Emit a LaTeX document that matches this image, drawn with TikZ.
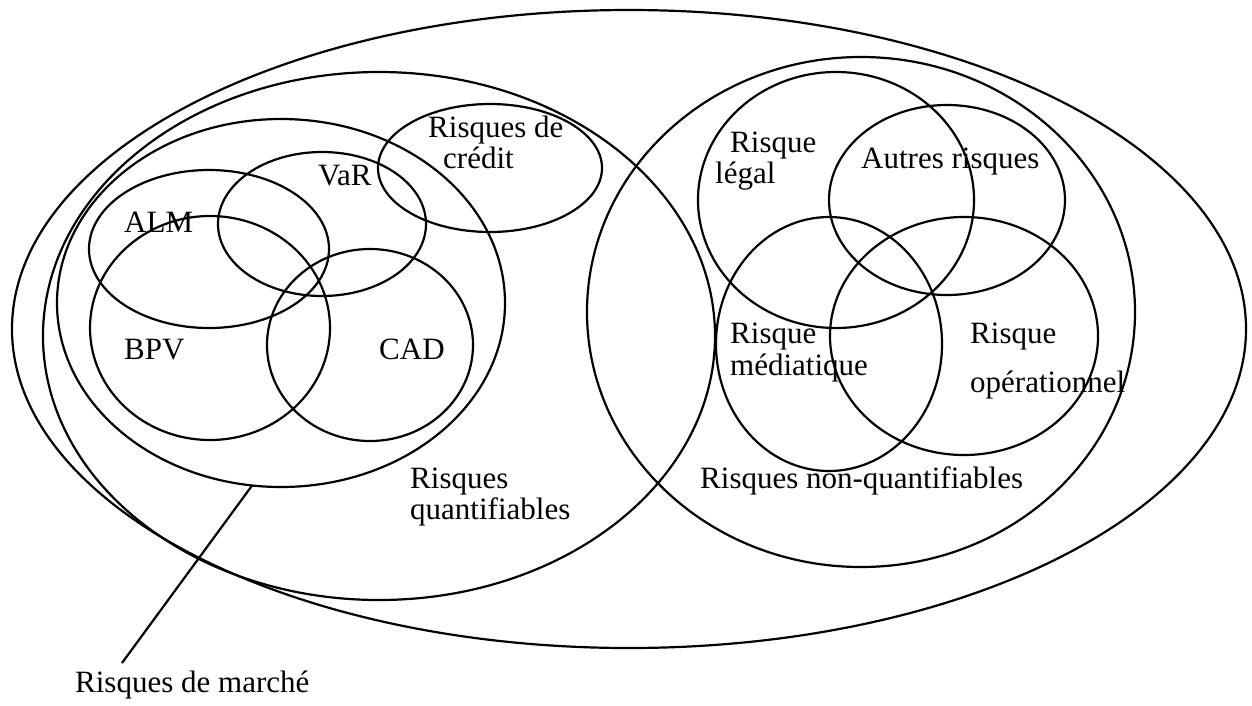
\documentclass[tikz,border=0pt]{standalone}
\usepackage{fontspec}
\setmainfont{Liberation Serif}
\usetikzlibrary{shapes.geometric}
\tikzset{
  set/.style={draw, ellipse, line width=2.2pt, inner sep=0pt, outer sep=0pt},
  lbl/.style={anchor=base west, inner sep=0pt, font=\fontsize{31}{31}\selectfont},
  link/.style={line width=2.2pt}
}
\begin{document}
\begin{tikzpicture}[x=1pt, y=-1pt]
\useasboundingbox (0,0) rectangle (1252,705);
% big sets
\node[set, minimum width=1234pt, minimum height=638pt] (outer) at (629,329) {};
\node[set, minimum width=672pt, minimum height=528pt] (quant) at (379,336) {};
\node[set, minimum width=448pt, minimum height=368pt] (marche) at (281,303) {};
\node[set, minimum width=548pt, minimum height=510pt] (nonquant) at (861,312) {};
% quantifiable subsets
\node[set, minimum width=224pt, minimum height=128pt] (credit) at (490,168) {};
\node[set, minimum width=240pt, minimum height=158pt] (alm) at (209,249) {};
\node[set, minimum width=208pt, minimum height=144pt] (var) at (322,224) {};
\node[set, minimum width=240pt, minimum height=224pt] (bpv) at (210,328) {};
\node[set, minimum width=206pt, minimum height=192pt] (cad) at (370,345) {};
% non-quantifiable subsets
\node[set, minimum width=276pt, minimum height=256pt] (legal) at (836,200) {};
\node[set, minimum width=236pt, minimum height=190pt] (autres) at (947,200) {};
\node[set, minimum width=226pt, minimum height=254pt] (media) at (829,344) {};
\node[set, minimum width=268pt, minimum height=238pt] (oper) at (964,336) {};
% labels
\node[lbl] (tcredit1) at (428,137) {Risques de};
\node[lbl] (tcredit2) at (443,168) {crédit};
\node[lbl] (tvar) at (318,185) {VaR};
\node[lbl] (talm) at (124,232) {ALM};
\node[lbl] (tbpv) at (124,359) {BPV};
\node[lbl] (tcad) at (379,359) {CAD};
\node[lbl] (tquant1) at (410,488) {Risques};
\node[lbl] (tquant2) at (410,519) {quantifiables};
\node[lbl] (tmarche) at (75,692) {Risques de marché};
\node[lbl] (tlegal1) at (730,152) {Risque};
\node[lbl] (tlegal2) at (715,183) {légal};
\node[lbl] (tautres) at (861,168) {Autres risques};
\node[lbl] (tmedia1) at (730,343) {Risque};
\node[lbl] (tmedia2) at (730,375) {médiatique};
\node[lbl] (toper1) at (970,343) {Risque};
\node[lbl] (toper2) at (970,392) {opérationnel};
\node[lbl] (tnonquant) at (700,488) {Risques non-quantifiables};
% pointer line
\coordinate (lineend) at (122,663);
\draw[link] (marche.-99.6) -- (lineend);
\end{tikzpicture}
\end{document}
